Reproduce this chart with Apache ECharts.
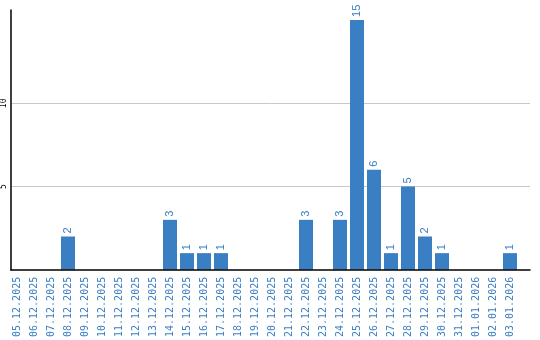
<!DOCTYPE html>
<html><head><meta charset="utf-8">
<script src="https://cdn.jsdelivr.net/npm/echarts@6/dist/echarts.min.js"></script>
<style>html,body{margin:0;padding:0;background:#fff}#c{width:540px;height:340px}</style>
</head><body><div id="c"></div>
<script>
const categories = ['05.12.2025','06.12.2025','07.12.2025','08.12.2025','09.12.2025','10.12.2025','11.12.2025','12.12.2025','13.12.2025','14.12.2025','15.12.2025','16.12.2025','17.12.2025','18.12.2025','19.12.2025','20.12.2025','21.12.2025','22.12.2025','23.12.2025','24.12.2025','25.12.2025','26.12.2025','27.12.2025','28.12.2025','29.12.2025','30.12.2025','31.12.2025','01.01.2026','02.01.2026','03.01.2026'];
const values = [0,0,0,2,0,0,0,0,0,3,1,1,1,0,0,0,0,3,0,3,15,6,1,5,2,1,0,0,0,1];
const gridLineValues = [5,10];
const yTickLabels = ['5','10'];

const blue = '#3a7ec3';
const chart = echarts.init(document.getElementById('c'));
chart.setOption({
  animation: false,
  grid: [
    {left: 10, right: 10, top: 10, bottom: 70},
    {left: 8.5, width: 510, top: 10, bottom: 70}
  ],
  xAxis: [
    {gridIndex: 0, type: 'value', min: 0, max: 1, z: 20, axisLine: {show: true, lineStyle: {color: '#000', width: 1.5}}, axisTick: {show: false}, axisLabel: {show: false}, splitLine: {show: false}},
    {gridIndex: 1, type: 'category', data: categories, axisLine: {show: false}, axisTick: {show: false},
     axisLabel: {rotate: 90, interval: 0, color: blue, fontFamily: 'DejaVu Sans Mono', fontSize: 10, margin: 7}}
  ],
  yAxis: [
    {gridIndex: 0, type: 'value', min: 0, max: 15.6, interval: 5, z: 20,
     axisLine: {show: true, lineStyle: {color: '#000', width: 1.5}}, axisTick: {show: false}, splitLine: {show: false},
     axisLabel: {rotate: 90, margin: 3, fontFamily: 'DejaVu Sans Mono', fontSize: 8, color: '#000',
       formatter: v => { const i = gridLineValues.indexOf(v); return i >= 0 ? yTickLabels[i] : ''; }}},
    {gridIndex: 1, type: 'value', min: 0, max: 15.6, show: false}
  ],
  series: [
    {type: 'line', xAxisIndex: 0, yAxisIndex: 0, data: [[0, 0]], symbol: 'none', lineStyle: {opacity: 0}, z: 1, silent: true,
     markLine: {silent: true, z: 1, symbol: 'none', label: {show: false}, lineStyle: {color: '#c8c8c8', type: 'solid', width: 1},
       data: gridLineValues.map(v => [{coord: [0, v]}, {coord: [1, v]}])}},
    {type: 'bar', xAxisIndex: 1, yAxisIndex: 1, data: values, barWidth: 14, z: 10,
     itemStyle: {color: blue},
     label: {show: true, position: 'top', rotate: 90, align: 'left', verticalAlign: 'middle', distance: 3,
       color: blue, fontFamily: 'Liberation Sans', fontSize: 11,
       formatter: p => p.value ? String(p.value) : ''}}
  ]
});
</script></body></html>
